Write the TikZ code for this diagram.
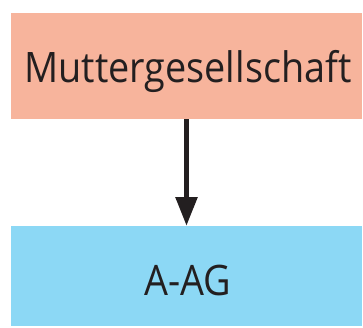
\documentclass[tikz,border=0pt]{standalone}
\usepackage{fontspec}
\setmainfont[FakeStretch=0.9]{Open Sans}
\usetikzlibrary{arrows.meta}
\definecolor{salmon}{HTML}{F7B49C}
\definecolor{skyb}{HTML}{8CD8F5}
\definecolor{ink}{HTML}{231F20}
\begin{document}
\begin{tikzpicture}[x=1pt,y=1pt,
  box/.style={inner sep=0pt, outer sep=0pt, minimum width=351pt},
  lbl/.style={inner sep=0pt, anchor=base, text=ink, font=\fontsize{42}{48}\selectfont},
  conn/.style={draw=ink, line width=5.5pt, -{Triangle[width=21pt,length=29pt]}}]
\useasboundingbox (0,0) rectangle (363,327);
\node[box, fill=salmon, minimum height=106pt] (top) at (186.5,261) {};
\node[box, fill=skyb, minimum height=100pt] (bot) at (186.5,51) {};
\node[lbl] (tl) at (188,244) {Muttergesellschaft};
\node[lbl] (bl) at (187.5,32) {A-AG};
\draw[conn] (top.south) -- (bot.north);
\end{tikzpicture}
\end{document}
